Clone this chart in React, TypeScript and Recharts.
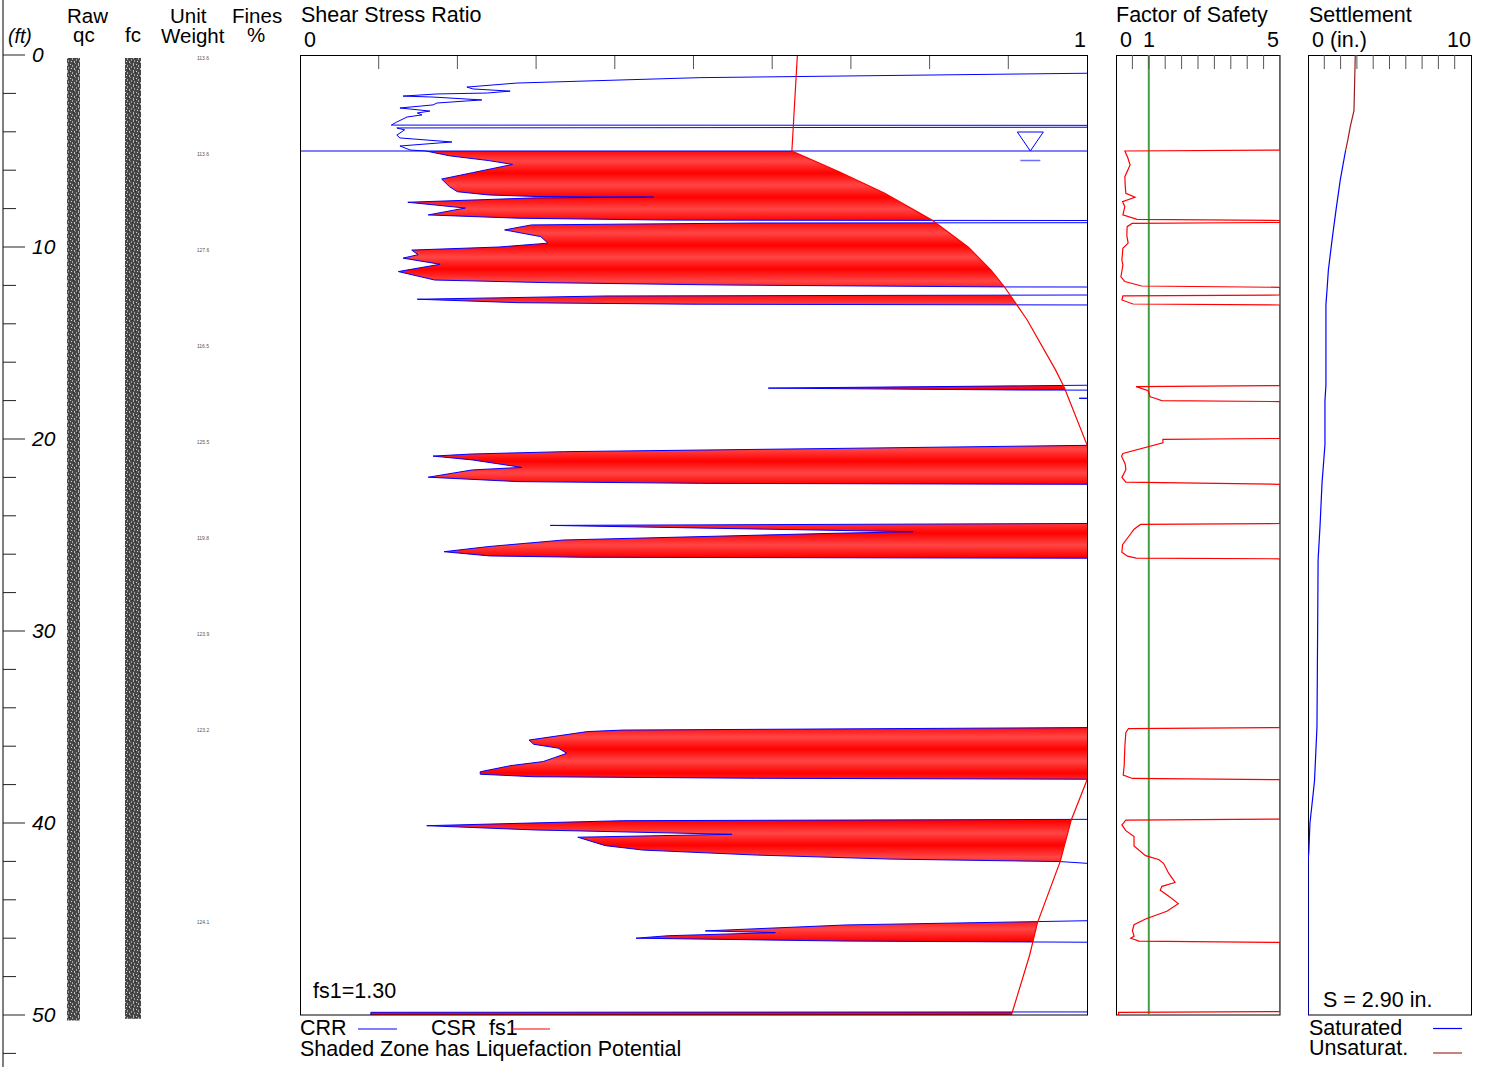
import React from "react";
import {
  ComposedChart,
  Line,
  Area,
  XAxis,
  YAxis,
  ReferenceLine,
  ReferenceDot,
  ReferenceArea,
} from "recharts";

const FONT = '"Liberation Sans", Arial, Helvetica, sans-serif';

// depth (ft), CRR. 2 = off the scale (non-liquefiable / very high)
const crrProfile: [number, number][] = [
  [0, 2], [0.9, 2], [0.95, 1.0], [1.18, 0.508], [1.46, 0.276], [1.67, 0.212], [1.77, 0.22],
  [1.88, 0.267], [1.98, 0.238], [2.03, 0.174], [2.14, 0.131], [2.19, 0.169], [2.34, 0.231],
  [2.5, 0.174], [2.6, 0.169], [2.76, 0.127], [2.92, 0.165], [3.02, 0.149], [3.12, 0.155],
  [3.23, 0.136], [3.49, 0.123], [3.65, 0.116], [3.68, 2], [3.72, 2], [3.8, 0.123], [3.9, 0.133],
  [4.17, 0.123], [4.32, 0.127], [4.53, 0.193], [4.74, 0.127], [4.95, 0.14],
  [5.0, 0.16], [5.25, 0.19], [5.5, 0.24], [5.7, 0.27], [6.13, 0.219], [6.46, 0.18], [6.86, 0.19],
  [7.12, 0.2], [7.29, 0.24], [7.37, 0.3], [7.4, 0.449], [7.44, 0.3], [7.67, 0.137], [7.97, 0.21],
  [8.33, 0.163], [8.5, 0.277], [8.6, 0.469], [8.66, 2], [8.7, 2], [8.75, 0.58], [8.85, 0.294],
  [9.11, 0.26], [9.46, 0.306], [9.8, 0.315], [10.0, 0.253], [10.16, 0.142], [10.4, 0.15],
  [10.58, 0.131], [10.9, 0.178], [11.28, 0.125], [11.72, 0.171], [11.86, 0.318], [11.98, 0.539],
  [12.08, 0.894], [12.12, 2], [12.45, 2], [12.5, 1.0], [12.55, 0.39], [12.72, 0.149],
  [12.9, 0.277], [12.98, 0.498], [13.02, 1.0], [13.06, 2],
  [17.15, 2], [17.2, 1.0], [17.35, 0.595], [17.45, 0.92], [17.5, 2], [17.85, 2], [17.88, 0.99],
  [17.92, 2],
  [20.28, 2], [20.33, 1.0], [20.49, 0.685], [20.66, 0.335], [20.78, 0.219], [20.89, 0.169],
  [21.09, 0.219], [21.48, 0.282], [21.61, 0.219], [21.99, 0.163], [22.22, 0.277], [22.31, 0.509],
  [22.36, 1.0], [22.4, 2],
  [24.35, 2], [24.4, 1.0], [24.5, 0.318], [24.83, 0.779], [24.91, 0.68], [25.26, 0.335],
  [25.6, 0.24], [25.87, 0.183], [26.09, 0.241], [26.16, 0.358], [26.21, 1.0], [26.26, 2],
  [35.0, 2], [35.03, 1.0], [35.16, 0.41], [35.24, 0.365], [35.68, 0.291], [35.9, 0.297],
  [36.1, 0.328], [36.37, 0.339], [36.6, 0.323], [36.8, 0.309], [37.01, 0.268], [37.33, 0.229],
  [37.46, 0.229], [37.59, 0.297], [37.67, 0.58], [37.72, 1.0], [37.76, 2],
  [39.78, 2], [39.81, 1.0], [39.88, 0.41], [40.14, 0.161], [40.36, 0.297], [40.59, 0.549],
  [40.74, 0.353], [41.18, 0.388], [41.41, 0.436], [41.67, 0.58], [41.88, 0.751], [42.01, 0.966],
  [42.1, 1.0], [42.14, 2],
  [45.06, 2], [45.09, 1.0], [45.31, 0.694], [45.62, 0.515], [45.71, 0.604], [45.87, 0.468],
  [46.0, 0.427], [46.15, 0.694], [46.21, 1.0], [46.25, 2],
  [49.8, 2], [49.84, 1.0], [49.86, 0.09], [50, 0.09],
];

// depth (ft), CSR x fs1
const csrProfile: [number, number][] = [
  [0, 0.632], [5.0, 0.625], [6.08, 0.685], [7.2, 0.743], [8.6, 0.803], [10.0, 0.849],
  [11.2, 0.878], [12.07, 0.895], [13.8, 0.924], [16.4, 0.96], [17.3, 0.971], [20.3, 1.0],
  [22, 1.02], [25, 1.04], [29, 1.05], [33, 1.04], [36, 1.02], [37.76, 1.0], [39.84, 0.98],
  [42.0, 0.966], [45.2, 0.937], [46.9, 0.927], [50, 0.904],
];

// depth (ft), factor of safety (5 = capped)
const fsProfile: [number, number][] = [
  [0, 5], [4.95, 5], [5.0, 0.27], [5.35, 0.36], [5.73, 0.43], [6.34, 0.27], [6.8, 0.28],
  [7.2, 0.3], [7.41, 0.58], [7.64, 0.2], [7.9, 0.27], [8.33, 0.21], [8.56, 0.64], [8.62, 5],
  [8.72, 5], [8.77, 0.49], [8.94, 0.34], [9.4, 0.33], [9.8, 0.37], [10.07, 0.21], [10.68, 0.18],
  [10.94, 0.21], [11.55, 0.15], [11.8, 0.27], [12.03, 0.78], [12.1, 5], [12.5, 5], [12.55, 0.21],
  [12.76, 0.18], [12.97, 0.52], [13.02, 5], [17.22, 5], [17.27, 0.61], [17.48, 0.98],
  [17.8, 1.04], [17.88, 1.19], [18.0, 1.39], [18.05, 5], [19.97, 5], [20.02, 1.43], [20.2, 1.43],
  [20.75, 0.21], [20.9, 0.17], [21.3, 0.28], [21.6, 0.3], [22.0, 0.18], [22.25, 0.3], [22.36, 5],
  [24.4, 5], [24.45, 0.75], [24.7, 0.55], [25.0, 0.42], [25.5, 0.2], [25.9, 0.18], [26.1, 0.35],
  [26.2, 0.62], [26.24, 5], [35.03, 5], [35.08, 0.38], [35.3, 0.3], [36.0, 0.27], [37.0, 0.25],
  [37.5, 0.22], [37.68, 0.5], [37.74, 5], [39.8, 5], [39.85, 0.3], [40.1, 0.18], [40.4, 0.3],
  [40.7, 0.55], [41.2, 0.55], [41.7, 0.9], [41.9, 1.3], [42.1, 1.45], [42.6, 1.6], [43.1, 1.8],
  [43.3, 1.4], [43.5, 1.35], [43.8, 1.6], [44.2, 1.9], [44.6, 1.55], [45.0, 0.9], [45.3, 0.55],
  [45.6, 0.5], [45.9, 0.55], [46.0, 0.45], [46.15, 0.7], [46.22, 5], [49.82, 5], [49.86, 0.08],
  [50, 0.08],
];

// depth (ft), settlement (in.)
const settlementUnsat: [number, number][] = [
  [0, 2.9], [2.9, 2.82], [3.7, 2.6], [4.4, 2.45], [5, 2.3],
];
const settlementSat: [number, number][] = [
  [5, 2.3], [6.5, 1.98], [8, 1.73], [9.6, 1.48], [11.2, 1.25], [12.2, 1.17], [13, 1.1],
  [17.2, 1.1], [18, 1.04], [20.3, 1.04], [22.3, 0.86], [24.5, 0.74], [26.3, 0.62], [35, 0.55],
  [37.8, 0.4], [39, 0.25], [40, 0.12], [41.5, 0.05], [42, 0], [50, 0],
];

const unitWeightDepths = [0, 5, 10, 15, 20, 25, 30, 35, 45];
const unitWeights = ["113.6", "113.6", "127.6", "116.5", "125.5", "119.8", "123.9", "123.2", "124.1"];

const depthTicks = [0, 2, 4, 6, 8, 10, 12, 14, 16, 18, 20, 22, 24, 26, 28, 30, 32, 34, 36, 38, 40, 42, 44, 46, 48, 50, 52];
const ssrTicks = [0.1, 0.2, 0.3, 0.4, 0.5, 0.6, 0.7, 0.8, 0.9];
const fsTicks = [0.5, 1, 1.5, 2, 2.5, 3, 3.5, 4, 4.5];
const settleTicks = [1, 2, 3, 4, 5, 6, 7, 8, 9];

const waterTable = 5;
const fs1 = "1.30";
const totalSettlement = "2.90";

const crrRows = crrProfile.map(([depth, crr]) => ({ depth, crr }));
const crrCoverRows = crrRows.filter((r) => r.depth >= waterTable);
const csrRows = csrProfile.map(([depth, csr]) => ({ depth, csr }));
const csrShadeRows = csrRows.filter((r) => r.depth >= waterTable);
const fsRows = fsProfile.map(([depth, fs]) => ({ depth, fs }));
const unsatRows = settlementUnsat.map(([depth, s]) => ({ depth, s }));
const satRows = settlementSat.map(([depth, s]) => ({ depth, s }));
const uwRows = unitWeightDepths.map((depth, i) => ({ depth, uw: unitWeights[i] }));

const PLOT_TOP = 55;
const PLOT_H = 960;
const PX_PER_FT = PLOT_H / 50;

const DepthTick = (props: any) => {
  const { y, payload } = props;
  const v = payload.value as number;
  const major = v % 10 === 0;
  return (
    <g>
      <line x1={3} x2={major ? 25 : 16} y1={y} y2={y} stroke="#222" strokeWidth={1} />
      {major && (
        <text x={32} y={y + 6.7} fontSize={21} fontStyle="italic" fontFamily={FONT} fill="#000">
          {v}
        </text>
      )}
    </g>
  );
};

const UnitWeightTick = (props: any) => {
  const i = unitWeightDepths.indexOf(props.payload.value);
  return (
    <text x={203} y={props.y + 5} fontSize={5} textAnchor="middle" fill="#555" fontFamily={FONT}>
      {unitWeights[i]}
    </text>
  );
};

// inward tick marks hanging from the top frame
const TopTick = (props: any) => (
  <line x1={props.x} x2={props.x} y1={0} y2={14} stroke="#555" strokeWidth={1} />
);

const WaterTableMark = (props: any) => {
  const { cx, cy } = props;
  return (
    <g>
      <path d={`M${cx - 13},${cy - 19} L${cx + 13},${cy - 19} L${cx},${cy} Z`} fill="none" stroke="#0000ff" strokeWidth={1} />
      <line x1={cx - 10} x2={cx + 10} y1={cy + 9.5} y2={cy + 9.5} stroke="#6f6fff" strokeWidth={1.5} />
    </g>
  );
};

const depthAxis = (
  <YAxis type="number" dataKey="depth" domain={[0, 50]} hide allowDataOverflow />
);

function DepthColumns() {
  const domain = [-PLOT_TOP / PX_PER_FT, (1067 - PLOT_TOP) / PX_PER_FT];
  return (
    <ComposedChart
      layout="vertical"
      data={uwRows}
      width={300}
      height={1067}
      margin={{ top: 0, right: 0, bottom: 0, left: 2 }}
      style={{ position: "absolute", left: 0, top: 0 }}
    >
      <XAxis type="number" domain={[3, 299]} hide allowDataOverflow />
      <YAxis
        yAxisId="depth"
        type="number"
        dataKey="depth"
        domain={domain}
        allowDataOverflow
        ticks={depthTicks}
        interval={0}
        width={1}
        axisLine={{ stroke: "#000" }}
        tickLine={false}
        tick={<DepthTick />}
      />
      <YAxis
        yAxisId="uw"
        orientation="right"
        type="number"
        dataKey="depth"
        domain={domain}
        allowDataOverflow
        ticks={unitWeightDepths}
        interval={0}
        width={1}
        axisLine={false}
        tickLine={false}
        tick={<UnitWeightTick />}
      />
      <Line yAxisId="depth" dataKey="depth" stroke="none" dot={false} activeDot={false} isAnimationActive={false} />
      <ReferenceArea yAxisId="depth" x1={67} x2={80} y1={0.15} y2={50.28} fill="url(#cptTexture)" fillOpacity={1} stroke="none" />
      <ReferenceArea yAxisId="depth" x1={125} x2={141} y1={0.15} y2={50.2} fill="url(#cptTexture)" fillOpacity={1} stroke="none" />
    </ComposedChart>
  );
}

function ShearStressChart() {
  return (
    <ComposedChart
      layout="vertical"
      width={787}
      height={PLOT_H}
      margin={{ top: 0, right: 0, bottom: 0, left: 0 }}
      style={{ position: "absolute", left: 300, top: PLOT_TOP }}
    >
      <XAxis
        type="number"
        domain={[0, 1]}
        allowDataOverflow
        orientation="top"
        mirror
        ticks={ssrTicks}
        interval={0}
        tick={<TopTick />}
        axisLine={false}
        tickLine={false}
      />
      {depthAxis}
      <Area data={csrShadeRows} dataKey="csr" type="linear" stroke="none" fill="url(#liqBand)" fillOpacity={1} isAnimationActive={false} dot={false} activeDot={false} />
      <Area data={crrCoverRows} dataKey="crr" type="linear" stroke="none" fill="#ffffff" fillOpacity={1} isAnimationActive={false} dot={false} activeDot={false} />
      <ReferenceLine y={waterTable} stroke="#0000ff" strokeWidth={1} />
      <Line data={crrRows} dataKey="crr" type="linear" stroke="#0000ff" strokeWidth={1} dot={false} activeDot={false} isAnimationActive={false} />
      <Line data={csrRows} dataKey="csr" type="linear" stroke="#ff0000" strokeWidth={1.2} dot={false} activeDot={false} isAnimationActive={false} />
      <ReferenceDot x={0.928} y={waterTable} r={0} shape={<WaterTableMark />} />
    </ComposedChart>
  );
}

function SafetyChart() {
  return (
    <ComposedChart
      layout="vertical"
      width={164}
      height={PLOT_H}
      margin={{ top: 0, right: 0, bottom: 0, left: 0 }}
      style={{ position: "absolute", left: 1116, top: PLOT_TOP }}
    >
      <XAxis
        type="number"
        domain={[0, 5]}
        allowDataOverflow
        orientation="top"
        mirror
        ticks={fsTicks}
        interval={0}
        tick={<TopTick />}
        axisLine={false}
        tickLine={false}
      />
      {depthAxis}
      <ReferenceLine x={1} stroke="#45a045" strokeWidth={2} />
      <Line data={fsRows} dataKey="fs" type="linear" stroke="#ff0000" strokeWidth={1.2} dot={false} activeDot={false} isAnimationActive={false} />
    </ComposedChart>
  );
}

function SettlementChart() {
  return (
    <ComposedChart
      layout="vertical"
      width={163}
      height={PLOT_H}
      margin={{ top: 0, right: 0, bottom: 0, left: 0 }}
      style={{ position: "absolute", left: 1308, top: PLOT_TOP }}
    >
      <XAxis
        type="number"
        domain={[0, 10]}
        allowDataOverflow
        orientation="top"
        mirror
        ticks={settleTicks}
        interval={0}
        tick={<TopTick />}
        axisLine={false}
        tickLine={false}
      />
      {depthAxis}
      <Line data={unsatRows} dataKey="s" type="linear" stroke="#9b1c1c" strokeWidth={1.2} dot={false} activeDot={false} isAnimationActive={false} />
      <Line data={satRows} dataKey="s" type="linear" stroke="#0000ff" strokeWidth={1.2} dot={false} activeDot={false} isAnimationActive={false} />
    </ComposedChart>
  );
}

const T = (p: { x: number; y: number; children: React.ReactNode; anchor?: string; size?: number }) => (
  <text x={p.x} y={p.y} fontSize={p.size ?? 21.5} fontFamily={FONT} fill="#000" textAnchor={p.anchor ?? "start"}>
    {p.children}
  </text>
);

export default function App() {
  return (
    <div style={{ position: "absolute", left: 0, top: 0, width: 1488, height: 1067, background: "#fff", overflow: "hidden" }}>
      <svg width={0} height={0} style={{ position: "absolute" }}>
        <defs>
          <linearGradient id="liqBand" gradientUnits="userSpaceOnUse" x1="0" y1="106" x2="0" y2="118" spreadMethod="reflect">
            <stop offset="0" stopColor="#ff4646" />
            <stop offset="1" stopColor="#ff0000" />
          </linearGradient>
          <pattern id="cptTexture" patternUnits="userSpaceOnUse" width={11} height={7}>
            <rect x={0} y={0} width={11} height={7} fill="#474747" />
            <rect x={1} y={0} width={1} height={3} fill="#b5b5b5" />
            <rect x={4} y={1} width={1} height={1} fill="#cfcfcf" />
            <rect x={2} y={4} width={1} height={2} fill="#9c9c9c" />
            <rect x={6} y={2} width={1} height={2} fill="#a6a6a6" />
            <rect x={8} y={5} width={1} height={2} fill="#bdbdbd" />
            <rect x={9} y={0} width={1} height={1} fill="#8a8a8a" />
            <rect x={5} y={5} width={1} height={1} fill="#d8d8d8" />
            <rect x={3} y={2} width={1} height={1} fill="#2a2a2a" />
            <rect x={7} y={0} width={1} height={1} fill="#2e2e2e" />
            <rect x={10} y={3} width={1} height={2} fill="#9a9a9a" />
            <rect x={0} y={5} width={1} height={1} fill="#2a2a2a" />
          </pattern>
        </defs>
      </svg>

      {/* frames under the FS and settlement traces */}
      <svg width={1488} height={1067} style={{ position: "absolute", left: 0, top: 0 }}>
        <rect x={1116.5} y={55.5} width={163.5} height={959.5} fill="none" stroke="#000" strokeWidth={1} />
        <rect x={1308.5} y={55.5} width={163} height={959.5} fill="none" stroke="#000" strokeWidth={1} />
      </svg>

      <DepthColumns />
      <ShearStressChart />
      <SafetyChart />
      <SettlementChart />

      <svg width={1488} height={1067} style={{ position: "absolute", left: 0, top: 0, pointerEvents: "none" }}>
        <rect x={300.5} y={55.5} width={787} height={959.5} fill="none" stroke="#000" strokeWidth={1} />

        <text x={8} y={42.5} fontSize={19.5} fontStyle="italic" fontFamily={FONT}>(ft)</text>
        <T x={67} y={22.5} size={20.5}>Raw</T>
        <T x={73} y={42} size={20.5}>qc</T>
        <T x={125} y={42} size={20.5}>fc</T>
        <T x={170} y={22.5} size={20.5}>Unit</T>
        <T x={161} y={42.5} size={20.5}>Weight</T>
        <T x={232} y={22.5} size={20.5}>Fines</T>
        <T x={247} y={42} size={20.5}>%</T>

        <T x={301} y={22}>Shear Stress Ratio</T>
        <T x={304} y={46.5}>0</T>
        <T x={1086} y={46.5} anchor="end">1</T>

        <T x={1116} y={22}>Factor of Safety</T>
        <T x={1120} y={46.5}>0</T>
        <T x={1143} y={46.5}>1</T>
        <T x={1279} y={46.5} anchor="end">5</T>

        <T x={1309} y={22}>Settlement</T>
        <T x={1312} y={46.5}>0 (in.)</T>
        <T x={1471} y={46.5} anchor="end">10</T>

        <T x={313} y={997.5}>fs1={fs1}</T>
        <T x={1323} y={1006.5}>S = {totalSettlement} in.</T>

        <T x={300} y={1035}>CRR</T>
        <line x1={358} x2={397} y1={1029} y2={1029} stroke="#0000ff" strokeWidth={1.2} />
        <T x={431} y={1035}>CSR</T>
        <T x={489} y={1035}>fs1</T>
        <line x1={511} x2={550} y1={1029} y2={1029} stroke="#ff0000" strokeWidth={1.2} />
        <T x={300} y={1056}>Shaded Zone has Liquefaction Potential</T>

        <T x={1309} y={1035}>Saturated</T>
        <line x1={1433} x2={1462} y1={1028.5} y2={1028.5} stroke="#0000ff" strokeWidth={1.2} />
        <T x={1309} y={1055}>Unsaturat.</T>
        <line x1={1433} x2={1462} y1={1053} y2={1053} stroke="#a52a2a" strokeWidth={1.2} />
      </svg>
    </div>
  );
}
